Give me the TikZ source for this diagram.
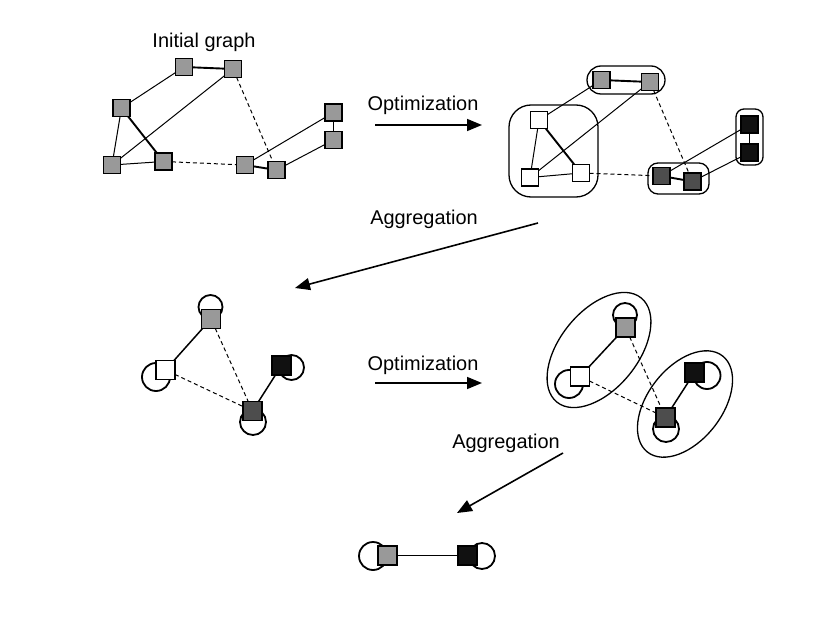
\documentclass[tikz,border=0pt]{standalone}
\usepackage{fontspec}
\setmainfont{Liberation Sans}
\usetikzlibrary{arrows.meta,shapes.geometric}
\definecolor{gA}{HTML}{999999}
\definecolor{gD}{HTML}{4D4D4D}
\definecolor{gK}{HTML}{111111}
\pgfdeclarelayer{bg}
\pgfsetlayers{bg,main}
\begin{document}
\begin{tikzpicture}[x=1bp,y=-1bp,
 sq/.style={draw=black, line width=1.5bp, minimum size=17bp, inner sep=0pt, outer sep=0pt},
 bsq/.style={sq, minimum size=19bp},
 thinedge/.style={line width=1bp},
 thickedge/.style={line width=1.9bp},
 midedge/.style={line width=1.5bp},
 dashedge/.style={line width=1bp, dash pattern=on 4bp off 3bp},
 loopc/.style={line width=1.8bp},
 grp/.style={draw, line width=1.3bp},
 lbl/.style={font=\fontsize{20}{24}\selectfont, anchor=base, inner sep=0pt},
 arr/.style={line width=1.6bp, -{Triangle[length=15bp,width=12bp]}}]
\useasboundingbox (0,0) rectangle (830,634);

% ---------- Initial graph ----------
\node[lbl] (t0) at (204,48) {Initial graph};
\node[sq,fill=gA] (A) at (184,67) {};
\node[sq,fill=gA] (B) at (233,69) {};
\node[sq,fill=gA] (C) at (121.5,108) {};
\node[sq,fill=gA] (D) at (112,165) {};
\node[sq,fill=gA] (E) at (163.5,161.5) {};
\node[sq,fill=gA] (F) at (245,165) {};
\node[sq,fill=gA] (G) at (276.5,170) {};
\node[sq,fill=gA] (H) at (333.5,112.5) {};
\node[sq,fill=gA] (I) at (333.5,140) {};
\draw[thickedge] (A) -- (B);
\draw[thinedge] (A) -- (C);
\draw[thinedge] (B) -- (D);
\draw[thinedge] (C) -- (D);
\draw[thickedge] (C) -- (E);
\draw[thinedge] (D) -- (E);
\draw[dashedge] (E) -- (F);
\draw[dashedge] (B) -- (G);
\draw[thickedge] (F) -- (G);
\draw[thinedge] (F) -- (H);
\draw[thinedge] (G) -- (I);
\draw[thickedge] (H) -- (I);

% ---------- Optimization 1 ----------
\node[lbl] (t1) at (423,110.5) {Optimization};
\coordinate (o1s) at (375,125);
\coordinate (o1e) at (482,125);
\draw[arr] (o1s) -- (o1e);

% ---------- Optimized graph ----------
\draw[grp, rounded corners=14bp] (587,66) rectangle (665,94);
\draw[grp, rounded corners=22bp] (509,105) rectangle (598,197);
\draw[grp, rounded corners=10bp] (648,163) rectangle (709,194);
\draw[grp, rounded corners=8bp] (736,109) rectangle (763,165);
\node[sq,fill=gA] (a) at (601.5,80) {};
\node[sq,fill=gA] (b) at (650,82) {};
\node[sq,fill=white] (c) at (539,120) {};
\node[sq,fill=white] (d) at (530,177.5) {};
\node[sq,fill=white] (e) at (581,173) {};
\node[sq,fill=gD] (f) at (661.5,176) {};
\node[sq,fill=gD] (g) at (692.5,181.5) {};
\node[sq,fill=gK] (h) at (749.5,124.5) {};
\node[sq,fill=gK] (i) at (749.5,152.5) {};
\draw[thickedge] (a) -- (b);
\draw[thinedge] (a) -- (c);
\draw[thinedge] (b) -- (d);
\draw[thinedge] (c) -- (d);
\draw[thickedge] (c) -- (e);
\draw[thinedge] (d) -- (e);
\draw[dashedge] (e) -- (f);
\draw[dashedge] (b) -- (g);
\draw[thickedge] (f) -- (g);
\draw[thinedge] (f) -- (h);
\draw[thinedge] (g) -- (i);
\draw[thickedge] (h) -- (i);

% ---------- Aggregation 1 ----------
\node[lbl] (t2) at (424,225) {Aggregation};
\coordinate (a1s) at (538,223);
\coordinate (a1e) at (295,288);
\draw[arr] (a1s) -- (a1e);

% ---------- Level 3 ----------
\node[bsq,fill=gA] (P) at (211,319) {};
\node[bsq,fill=white] (Q) at (165.5,370) {};
\node[bsq,fill=gK] (R) at (281.5,365.5) {};
\node[bsq,fill=gD] (S) at (252.5,411) {};
\begin{pgfonlayer}{bg}
\draw[loopc] (210.5,307) circle[radius=12];
\draw[loopc] (156,377) circle[radius=14];
\draw[loopc] (291.5,367.5) circle[radius=12.5];
\draw[loopc] (253,422) circle[radius=13];
\end{pgfonlayer}
\draw[midedge] (P) -- (Q);
\draw[midedge] (R) -- (S);
\draw[dashedge] (P) -- (S);
\draw[dashedge] (Q) -- (S);

% ---------- Optimization 2 ----------
\node[lbl] (t3) at (423,370.5) {Optimization};
\coordinate (o2s) at (375,383);
\coordinate (o2e) at (482,383);
\draw[arr] (o2s) -- (o2e);

% ---------- Level 4 ----------
\node[ellipse, draw, line width=1.3bp, minimum width=134bp, minimum height=78bp, inner sep=0pt, rotate=51] (EL) at (599,350) {};
\node[ellipse, draw, line width=1.3bp, minimum width=122bp, minimum height=74bp, inner sep=0pt, rotate=52] (ER) at (685,404) {};
\node[bsq,fill=gA] (P2) at (625.5,327.5) {};
\node[bsq,fill=white] (Q2) at (580,376.5) {};
\node[bsq,fill=gK] (R2) at (694.5,372.5) {};
\node[bsq,fill=gD] (S2) at (665.5,417.5) {};
\begin{pgfonlayer}{bg}
\draw[loopc] (625,315) circle[radius=12];
\draw[loopc] (569,384) circle[radius=14];
\draw[loopc] (707,375.5) circle[radius=13.5];
\draw[loopc] (666,429) circle[radius=13];
\end{pgfonlayer}
\draw[midedge] (P2) -- (Q2);
\draw[midedge] (R2) -- (S2);
\draw[dashedge] (P2) -- (S2);
\draw[dashedge] (Q2) -- (S2);

% ---------- Aggregation 2 ----------
\node[lbl] (t4) at (506,448) {Aggregation};
\coordinate (a2s) at (563,453);
\coordinate (a2e) at (457,513);
\draw[arr] (a2s) -- (a2e);

% ---------- Final ----------
\node[bsq,fill=gA] (X) at (387.5,555.5) {};
\node[bsq,fill=gK] (Y) at (467.5,555.5) {};
\begin{pgfonlayer}{bg}
\draw[loopc] (373,556) circle[radius=14];
\draw[loopc] (482,556) circle[radius=13];
\end{pgfonlayer}
\draw[thinedge] (X) -- (Y);
\end{tikzpicture}
\end{document}
